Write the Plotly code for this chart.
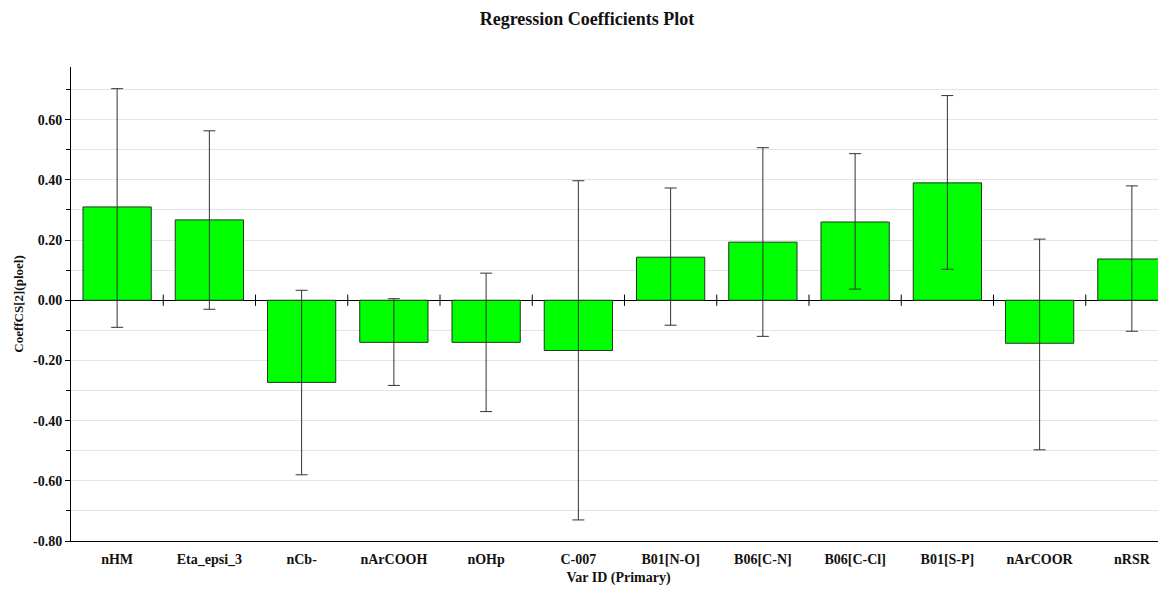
import plotly.graph_objects as go

categories = ["nHM", "Eta_epsi_3", "nCb-", "nArCOOH", "nOHp", "C-007",
              "B01[N-O]", "B06[C-N]", "B06[C-Cl]", "B01[S-P]", "nArCOOR", "nRSR"]
coefficients = [0.31, 0.267, -0.273, -0.14, -0.14, -0.167,
                0.143, 0.193, 0.26, 0.39, -0.143, 0.137]
err_upper = [0.703, 0.563, 0.033, 0.005, 0.09, 0.397,
             0.373, 0.507, 0.487, 0.68, 0.203, 0.38]
err_lower = [-0.09, -0.03, -0.58, -0.283, -0.37, -0.73,
             -0.083, -0.12, 0.037, 0.103, -0.497, -0.103]
ytick_values = [-0.8, -0.6, -0.4, -0.2, 0.0, 0.2, 0.4, 0.6]

plus = [u - c for u, c in zip(err_upper, coefficients)]
minus = [c - l for l, c in zip(err_lower, coefficients)]
xs = list(range(len(categories)))
boundaries = [i + 0.5 for i in range(len(categories) - 1)]

font = "Liberation Serif, Times New Roman, serif"

# page body has an 8px margin; figure sized so the plot lands where the reference has it
fig_w, fig_h = 1158, 585

fig = go.Figure()
fig.add_trace(go.Bar(
    x=xs, y=coefficients, width=0.74,
    marker=dict(color="#00ff00", line=dict(color="#1e3a1e", width=1)),
    error_y=dict(type="data", symmetric=False, array=plus, arrayminus=minus,
                 color="#333333", thickness=1, width=6),
    showlegend=False, hoverinfo="y",
))
fig.add_trace(go.Scatter(
    x=boundaries, y=[0] * len(boundaries), mode="markers",
    marker=dict(symbol="line-ns", size=8, line=dict(color="black", width=1)),
    showlegend=False, hoverinfo="skip",
))

fig.update_layout(
    width=fig_w, height=fig_h,
    paper_bgcolor="white", plot_bgcolor="white",
    margin=dict(l=63, r=0, t=59, b=52),
    title=dict(text="<b>Regression Coefficients Plot</b>", x=0.5, xanchor="center",
               y=1 - 11 / fig_h, yanchor="middle",
               font=dict(family=font, size=18, color="#111111")),
    font=dict(family=font, color="#111111"),
    xaxis=dict(
        range=[-0.5, len(categories) - 0.63],
        tickmode="array", tickvals=xs, ticktext=["<b>%s</b>" % c for c in categories],
        tickfont=dict(family=font, size=14, color="#111111"),
        showgrid=False, ticks="outside", ticklen=5, tickcolor="rgba(0,0,0,0)",
        showline=True, linecolor="black", linewidth=1,
        automargin=False,
        title=dict(text="<b>Var ID (Primary)</b>", standoff=6,
                   font=dict(family=font, size=14, color="#111111")),
        zeroline=False,
    ),
    yaxis=dict(
        range=[-0.8, 0.775],
        tickmode="array",
        tickvals=ytick_values,
        ticktext=["<b>%.2f</b>" % v for v in ytick_values],
        tickfont=dict(family=font, size=14, color="#111111"),
        ticks="outside", ticklen=5, tickcolor="black",
        showgrid=True, gridcolor="#e4e4e4", gridwidth=1,
        minor=dict(dtick=0.1, tick0=0, showgrid=True, gridcolor="#e4e4e4",
                   ticks="outside", ticklen=4, tickcolor="black"),
        showline=True, linecolor="black", linewidth=1,
        zeroline=True, zerolinecolor="black", zerolinewidth=1,
        automargin=False,
        title=dict(text="<b>CoeffCS[2](ploel)</b>", standoff=6,
                   font=dict(family=font, size=13, color="#111111")),
    ),
)

fig.write_html("out.html")
